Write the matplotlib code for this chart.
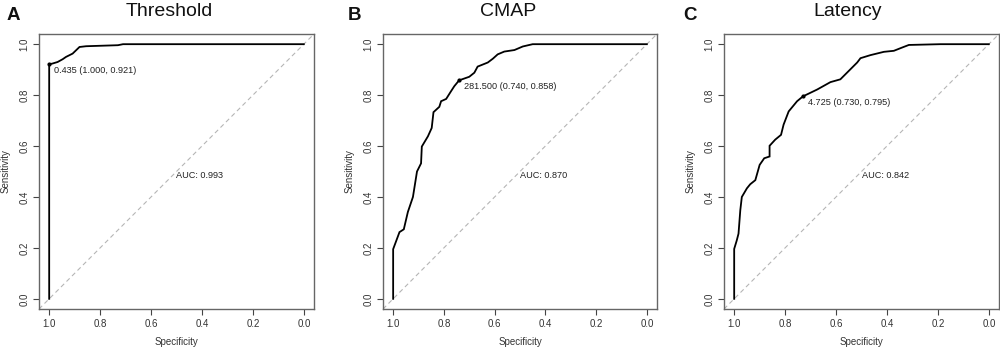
import matplotlib
matplotlib.use("Agg")
import matplotlib.pyplot as plt

plt.rcParams['font.family'] = ['Liberation Sans', 'DejaVu Sans']

# ---- data (specificity, sensitivity) ----
thr_spec = [1.0, 1.0, 0.987, 0.967, 0.947, 0.934, 0.908, 0.881, 0.855, 0.73, 0.71, 0.0]
thr_sens = [0.0, 0.921, 0.924, 0.93, 0.941, 0.95, 0.963, 0.989, 0.992, 0.996, 1.0, 1.0]

cmap_spec = [1.0, 1.0, 0.975, 0.958, 0.942, 0.922, 0.906, 0.89, 0.887, 0.863, 0.848, 0.841,
             0.818, 0.811, 0.791, 0.772, 0.759, 0.740, 0.70, 0.68, 0.667, 0.627, 0.607,
             0.588, 0.562, 0.522, 0.489, 0.45, 0.0]
cmap_sens = [0.0, 0.195, 0.262, 0.273, 0.341, 0.40, 0.50, 0.532, 0.598, 0.638, 0.671, 0.733,
             0.754, 0.776, 0.785, 0.815, 0.835, 0.858, 0.872, 0.888, 0.912, 0.928, 0.943,
             0.96, 0.971, 0.977, 0.991, 1.0, 1.0]

lat_spec = [1.0, 1.0, 0.99, 0.983, 0.976, 0.97, 0.95, 0.937, 0.917, 0.90, 0.882, 0.861, 0.861,
            0.839, 0.816, 0.806, 0.786, 0.753, 0.730, 0.674, 0.622, 0.583, 0.55, 0.517,
            0.504, 0.465, 0.412, 0.373, 0.34, 0.314, 0.19, 0.0]
lat_sens = [0.0, 0.196, 0.229, 0.256, 0.348, 0.40, 0.434, 0.45, 0.466, 0.526, 0.552, 0.559,
            0.601, 0.625, 0.644, 0.684, 0.736, 0.776, 0.795, 0.822, 0.851, 0.862, 0.895,
            0.928, 0.945, 0.957, 0.97, 0.974, 0.987, 0.997, 1.0, 1.0]

titles = ["Threshold", "CMAP", "Latency"]
letters = ["A", "B", "C"]
thresholds = ["0.435", "281.500", "4.725"]
best_points = [(1.000, 0.921), (0.740, 0.858), (0.730, 0.795)]
aucs = ["0.993", "0.870", "0.842"]
ticks = [1.0, 0.8, 0.6, 0.4, 0.2, 0.0]
tick_labels = ["1.0", "0.8", "0.6", "0.4", "0.2", "0.0"]
yticks = [0.0, 0.2, 0.4, 0.6, 0.8, 1.0]
ytick_labels = ["0.0", "0.2", "0.4", "0.6", "0.8", "1.0"]

curves = [(thr_spec, thr_sens), (cmap_spec, cmap_sens), (lat_spec, lat_sens)]

W, H = 1000, 351
fig = plt.figure(figsize=(10, 3.51), dpi=100)

ax_px = [(39, 314), (383, 657), (724, 999)]
top_px, bot_px = 34, 309
title_x = [169, 508, 848]
letter_x = [7, 348, 683]

for i in range(3):
    l, r = ax_px[i]
    ax = fig.add_axes([l / W, 1 - bot_px / H, (r - l) / W, (bot_px - top_px) / H])
    ax.set_xlim(1.04, -0.04)
    ax.set_ylim(-0.04, 1.04)
    # diagonal
    ax.plot([1.04, -0.04], [-0.04, 1.04], color="#b5b5b5", lw=0.8, ls=(0, (4, 3)))
    xs, ys = curves[i]
    ax.plot(xs, ys, color="black", lw=1.3, solid_joinstyle="miter")
    bx, by = best_points[i]
    ax.plot([bx], [by], "o", color="black", ms=2)
    ax.annotate(f"{thresholds[i]} ({bx:.3f}, {by:.3f})", (bx, by), xytext=(3.5, -1.5),
                textcoords="offset points", ha="left", va="top", fontsize=6.6, color="#222222")
    ax.text(0.5, 0.5, f"AUC: {aucs[i]}", ha="left", va="top", fontsize=6.6, color="#222222")
    ax.set_xticks(ticks)
    ax.set_xticklabels(tick_labels)
    ax.set_yticks(yticks)
    ax.set_yticklabels(ytick_labels, rotation=90, va="center")
    ax.tick_params(axis="both", labelsize=7, colors="#444444", labelcolor="#333333",
                   length=4, width=0.8, pad=3)
    for s in ax.spines.values():
        s.set_color("#666666")
        s.set_linewidth(1.0)
    ax.set_xlabel("Specificity", fontsize=7, color="#333333", labelpad=6)
    ax.set_ylabel("Sensitivity", fontsize=7, color="#333333", labelpad=6)
    fig.text(title_x[i] / W, 1 - 12 / H, titles[i], ha="center", va="center", fontsize=14, color="#111111")
    fig.text(letter_x[i] / W, 1 - 16 / H, letters[i], ha="left", va="center", fontsize=13.5,
             fontweight="bold", color="#111111")

fig.savefig("out.png", dpi=100, facecolor="white")
